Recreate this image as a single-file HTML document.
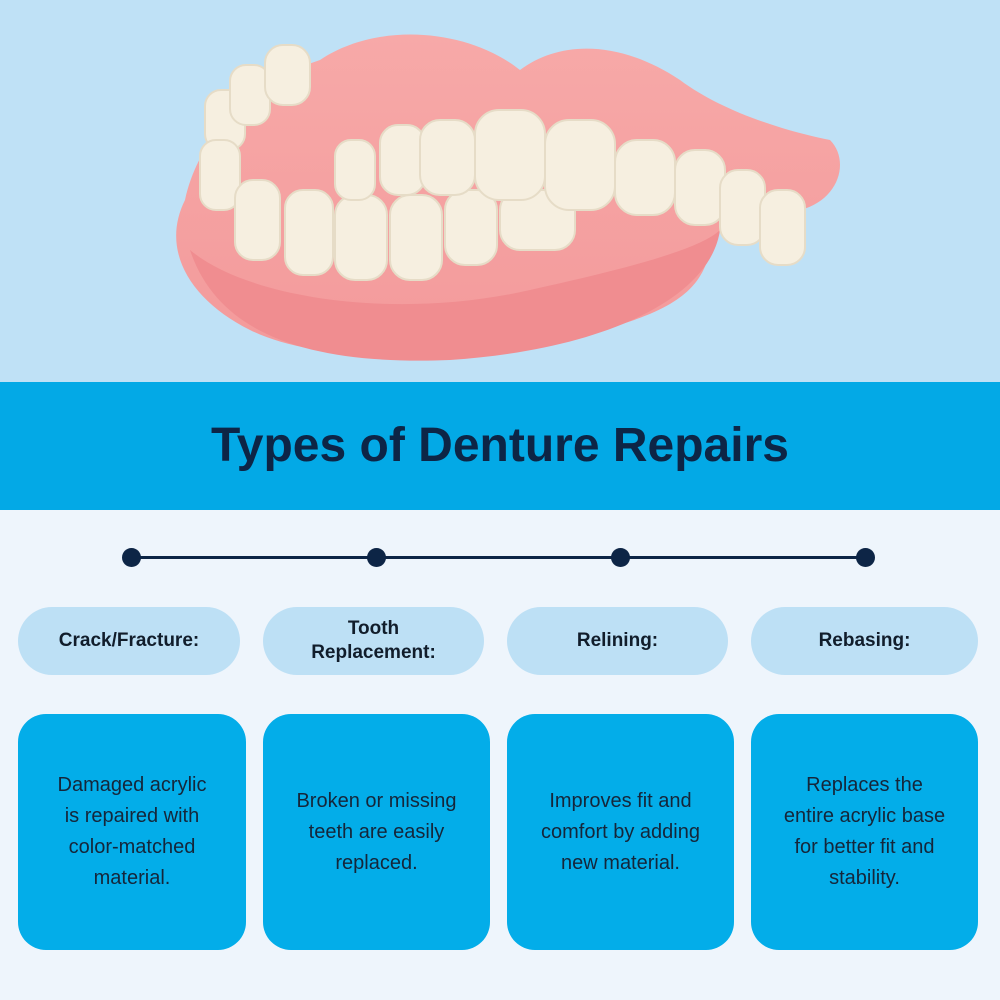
<!DOCTYPE html>
<html><head><meta charset="utf-8"><style>
*{margin:0;padding:0;box-sizing:border-box}
body{width:1000px;height:1000px;background:#eef5fc;font-family:"Liberation Sans",sans-serif;position:relative;overflow:hidden}
.top{position:absolute;left:0;top:0;width:1000px;height:382px;background:#bfe1f6}
.band{position:absolute;left:0;top:382px;width:1000px;height:128px;background:#03a9e6}
h1{font-size:48px;font-weight:bold;color:#0d2546;text-align:center;line-height:128px}
.line{position:absolute;left:131px;width:734px;top:556px;height:3px;background:#0d2546}
.dot{position:absolute;top:548px;width:19px;height:19px;border-radius:50%;background:#0d2546}
.pill{position:absolute;top:607px;height:68px;background:#bde0f5;border-radius:34px;display:flex;align-items:center;justify-content:center;text-align:center;font-weight:bold;font-size:19px;color:#111d2b;line-height:24px}
.card{position:absolute;top:714px;height:236px;background:#03ade9;border-radius:28px;display:flex;align-items:center;justify-content:center;text-align:center;font-size:20px;color:#15263a;line-height:31px;padding:0 30px}
</style></head><body>
<div class="top">
<svg width="1000" height="382" viewBox="0 0 1000 382">
 <defs>
  <linearGradient id="g" x1="0" y1="0" x2="0" y2="1"><stop offset="0" stop-color="#f7a9a8"/><stop offset="1" stop-color="#f39a9b"/></linearGradient>
 </defs>
 <path d="M320 60 C380 20 470 30 520 70 C560 40 620 40 680 80 C720 110 780 130 830 140 C850 160 840 200 800 210 L720 230 C700 260 720 300 600 330 C500 360 330 370 250 330 C190 300 160 250 185 200 C200 130 260 80 320 60Z" fill="url(#g)"/>
 <path d="M190 250 C250 300 400 320 530 290 C620 270 700 250 720 230 C710 300 600 350 450 360 C320 365 220 340 190 250Z" fill="#f08d90"/>
 <g fill="#f6efe0" stroke="#e6dcc7" stroke-width="2">
  <rect x="205" y="90" width="40" height="60" rx="16"/>
  <rect x="230" y="65" width="40" height="60" rx="16"/>
  <rect x="265" y="45" width="45" height="60" rx="18"/>
  <rect x="200" y="140" width="40" height="70" rx="16"/>
  <rect x="235" y="180" width="45" height="80" rx="18"/>
  <rect x="285" y="190" width="48" height="85" rx="18"/>
  <rect x="335" y="195" width="52" height="85" rx="20"/>
  <rect x="390" y="195" width="52" height="85" rx="20"/>
  <rect x="445" y="190" width="52" height="75" rx="20"/>
  <rect x="500" y="190" width="75" height="60" rx="20"/>
  <rect x="335" y="140" width="40" height="60" rx="16"/>
  <rect x="380" y="125" width="45" height="70" rx="18"/>
  <rect x="420" y="120" width="55" height="75" rx="20"/>
  <rect x="475" y="110" width="70" height="90" rx="24"/>
  <rect x="545" y="120" width="70" height="90" rx="24"/>
  <rect x="615" y="140" width="60" height="75" rx="22"/>
  <rect x="675" y="150" width="50" height="75" rx="20"/>
  <rect x="720" y="170" width="45" height="75" rx="18"/>
  <rect x="760" y="190" width="45" height="75" rx="18"/>
 </g>
</svg>
</div>
<div class="band"><h1>Types of Denture Repairs</h1></div>
<div class="line"></div>
<div class="dot" style="left:122px"></div>
<div class="dot" style="left:367px"></div>
<div class="dot" style="left:611px"></div>
<div class="dot" style="left:856px"></div>
<div class="pill" style="left:18px;width:222px">Crack/Fracture:</div>
<div class="pill" style="left:263px;width:221px">Tooth<br>Replacement:</div>
<div class="pill" style="left:507px;width:221px">Relining:</div>
<div class="pill" style="left:751px;width:227px">Rebasing:</div>
<div class="card" style="left:18px;width:228px">Damaged acrylic is repaired with color-matched material.</div>
<div class="card" style="left:263px;width:227px">Broken or missing teeth are easily replaced.</div>
<div class="card" style="left:507px;width:227px">Improves fit and comfort by adding new material.</div>
<div class="card" style="left:751px;width:227px">Replaces the entire acrylic base for better fit and stability.</div>
</body></html>
